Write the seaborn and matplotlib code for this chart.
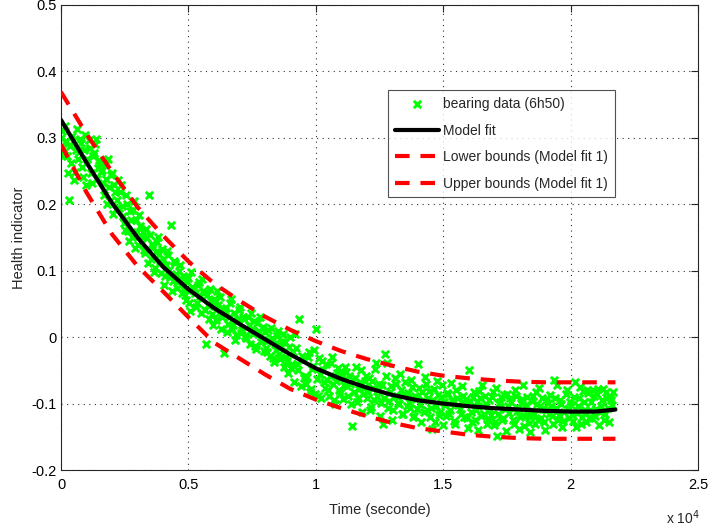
import numpy as np
import matplotlib
matplotlib.use("Agg")
import matplotlib.pyplot as plt
import seaborn as sns

# ------------------------
# DATA
# ------------------------
# bearing data, two interleaved passes, one sample every 80 s each
sample_step = 80.0
hi_data_a = [  # t = 0, 80, 160, ...
    0.300, 0.285, 0.318, 0.272, 0.207, 0.262, 0.295, 0.248, 0.313, 0.278,
    0.292, 0.241, 0.305, 0.268, 0.285, 0.232, 0.277, 0.298, 0.255, 0.262,
    0.252, 0.214, 0.238, 0.268, 0.205, 0.247, 0.229, 0.193, 0.236, 0.218,
    0.198, 0.172, 0.214, 0.160, 0.190, 0.151, 0.205, 0.176, 0.139, 0.168,
    0.158, 0.127, 0.149, 0.214, 0.118, 0.136, 0.104, 0.143, 0.125, 0.097,
    0.118, 0.092, 0.130, 0.101, 0.169, 0.085, 0.112, 0.074, 0.099, 0.088,
    0.092, 0.064, 0.083, 0.051, 0.098, 0.071, 0.045, 0.079, 0.062, 0.088,
    0.066, -0.010, 0.048, 0.072, 0.035, 0.058, 0.026, 0.049, 0.061, 0.031,
    -0.024, 0.044, 0.020, 0.052, 0.012, 0.037, 0.003, 0.028, 0.046, 0.010,
    0.027, -0.002, 0.019, 0.036, 0.004, -0.014, 0.022, 0.009, -0.008, 0.015,
    0.008, -0.022, -0.005, 0.014, -0.031, -0.010, 0.002, -0.026, -0.014, 0.005,
    -0.008, -0.036, -0.015, -0.047, -0.022, 0.004, -0.041, 0.027, -0.029, -0.062,
    -0.071, -0.030, -0.082, -0.048, -0.019, 0.012, -0.088, -0.055, -0.036, -0.068,
    -0.041, -0.079, -0.058, -0.030, -0.095, -0.066, -0.047, -0.084, -0.056, -0.072,
    -0.052, -0.088, -0.070, -0.134, -0.061, -0.097, -0.078, -0.050, -0.086, -0.066,
    -0.092, -0.061, -0.105, -0.077, -0.048, -0.088, -0.070, -0.099, -0.130, -0.026,
    -0.039, -0.096, -0.074, -0.110, -0.062, -0.088, -0.101, -0.079, -0.115, -0.068,
    -0.084, -0.106, -0.075, -0.118, -0.093, -0.041, -0.101, -0.082, -0.112, -0.070,
    -0.092, -0.120, -0.139, -0.078, -0.104, -0.087, -0.113, -0.072, -0.097, -0.118,
    -0.085, -0.110, -0.094, -0.126, -0.079, -0.102, -0.116, -0.088, -0.099, -0.121,
    -0.050, -0.112, -0.090, -0.125, -0.097, -0.081, -0.118, -0.104, -0.089, -0.130,
    -0.095, -0.117, -0.083, -0.128, -0.149, -0.101, -0.090, -0.122, -0.108, -0.086,
    -0.114, -0.097, -0.131, -0.088, -0.106, -0.120, -0.093, -0.134, -0.102, -0.117,
    -0.143, -0.096, -0.115, -0.083, -0.124, -0.104, -0.091, -0.128, -0.110, -0.099,
    -0.087, -0.118, -0.065, -0.106, -0.124, -0.095, -0.135, -0.113, -0.080, -0.121,
    -0.102, -0.126, -0.068, -0.114, -0.092, -0.131, -0.081, -0.109, -0.079, -0.122,
    -0.097, -0.080, -0.118, -0.086, -0.133, -0.104, -0.078, -0.115, -0.092, -0.127,
    -0.095, -0.083,
]
hi_data_b = [  # t = 40, 120, 200, ...
    0.310, 0.274, 0.296, 0.247, 0.288, 0.303, 0.236, 0.282, 0.268, 0.299,
    0.256, 0.281, 0.229, 0.297, 0.247, 0.273, 0.290, 0.238, 0.266, 0.248,
    0.232, 0.259, 0.201, 0.226, 0.244, 0.185, 0.219, 0.207, 0.195, 0.229,
    0.183, 0.162, 0.201, 0.145, 0.177, 0.192, 0.134, 0.158, 0.184, 0.150,
    0.131, 0.163, 0.112, 0.154, 0.140, 0.098, 0.128, 0.151, 0.115, 0.133,
    0.079, 0.108, 0.124, 0.090, 0.070, 0.115, 0.095, 0.083, 0.109, 0.067,
    0.071, 0.056, 0.089, 0.040, 0.076, 0.066, 0.052, 0.083, 0.037, 0.069,
    0.041, 0.064, 0.028, 0.055, 0.018, 0.047, 0.070, 0.036, 0.012, 0.042,
    0.039, 0.008, 0.031, 0.058, 0.019, -0.004, 0.025, 0.041, 0.006, 0.030,
    0.001, 0.030, -0.010, 0.011, 0.024, -0.018, 0.006, 0.031, -0.005, -0.021,
    -0.016, 0.011, -0.028, -0.002, -0.038, -0.019, 0.009, -0.033, -0.007, -0.045,
    -0.030, -0.054, 0.000, -0.040, -0.068, -0.017, -0.050, -0.074, -0.035, -0.058,
    -0.060, -0.022, -0.078, -0.043, -0.085, -0.063, -0.031, -0.092, -0.049, -0.076,
    -0.065, -0.088, -0.039, -0.071, -0.100, -0.054, -0.080, -0.062, -0.093, -0.045,
    -0.074, -0.059, -0.101, -0.083, -0.045, -0.091, -0.068, -0.112, -0.077, -0.058,
    -0.083, -0.110, -0.066, -0.095, -0.039, -0.080, -0.118, -0.072, -0.091, -0.058,
    -0.107, -0.082, -0.124, -0.090, -0.071, -0.099, -0.056, -0.115, -0.086, -0.104,
    -0.097, -0.065, -0.120, -0.089, -0.108, -0.077, -0.127, -0.094, -0.060, -0.110,
    -0.081, -0.107, -0.095, -0.128, -0.066, -0.117, -0.090, -0.133, -0.102, -0.084,
    -0.115, -0.069, -0.098, -0.131, -0.091, -0.108, -0.074, -0.120, -0.093, -0.137,
    -0.096, -0.128, -0.083, -0.110, -0.140, -0.092, -0.072, -0.115, -0.101, -0.124,
    -0.110, -0.090, -0.133, -0.076, -0.116, -0.098, -0.125, -0.087, -0.141, -0.104,
    -0.092, -0.124, -0.080, -0.111, -0.138, -0.099, -0.072, -0.118, -0.090, -0.129,
    -0.118, -0.089, -0.130, -0.101, -0.076, -0.121, -0.108, -0.140, -0.093, -0.115,
    -0.103, -0.130, -0.092, -0.072, -0.117, -0.100, -0.126, -0.086, -0.108, -0.098,
    -0.117, -0.090, -0.136, -0.104, -0.075, -0.120, -0.097, -0.128, -0.084, -0.110,
    -0.122, -0.088, -0.108, -0.078, -0.112, -0.095, -0.125, -0.083, -0.106, -0.090,
    -0.102,
]
t_data = np.concatenate([np.arange(len(hi_data_a)) * sample_step,
                         np.arange(len(hi_data_b)) * sample_step + sample_step / 2])
hi_data = np.concatenate([hi_data_a, hi_data_b])

# model fit and its bounds
fit_t = [0, 1000, 2000, 3000, 4000, 5000, 6000, 7000, 8000, 9000, 10000,
         11000, 12000, 13000, 14000, 15000, 16000, 17000, 18000, 19000,
         20000, 21000, 21760]
fit_v = [0.327, 0.263, 0.202, 0.150, 0.106, 0.072, 0.044, 0.020, -0.003,
         -0.026, -0.047, -0.063, -0.076, -0.087, -0.095, -0.100, -0.104,
         -0.107, -0.109, -0.111, -0.112, -0.112, -0.109]
upper_v = [0.369, 0.306, 0.249, 0.196, 0.153, 0.114, 0.081, 0.055, 0.031,
           0.011, -0.006, -0.021, -0.033, -0.043, -0.052, -0.058, -0.062,
           -0.065, -0.067, -0.068, -0.068, -0.068, -0.068]
lower_v = [0.290, 0.218, 0.155, 0.107, 0.069, 0.030, -0.008, -0.032, -0.056,
           -0.078, -0.094, -0.107, -0.119, -0.129, -0.137, -0.142, -0.147,
           -0.150, -0.152, -0.153, -0.153, -0.153, -0.153]

x_ticks = [0, 5000, 10000, 15000, 20000, 25000]
x_tick_labels = ["0", "0.5", "1", "1.5", "2", "2.5"]
y_ticks = [-0.2, -0.1, 0, 0.1, 0.2, 0.3, 0.4, 0.5]
y_tick_labels = ["-0.2", "-0.1", "0", "0.1", "0.2", "0.3", "0.4", "0.5"]

# ------------------------
# STYLE
# ------------------------
sns.set_style("white")
plt.rcParams["font.family"] = ["Liberation Sans", "DejaVu Sans"]
plt.rcParams["axes.unicode_minus"] = False

fig = plt.figure(figsize=(7.13, 5.31), dpi=100)
ax = fig.add_axes([61 / 713, 61 / 531, 637 / 713, 465 / 531])

sns.scatterplot(x=t_data, y=hi_data, ax=ax, marker="x", color="#00ff00",
                s=28, linewidth=2.1, label="bearing data (6h50)", zorder=2)
sns.lineplot(x=fit_t, y=fit_v, ax=ax, color="black", linewidth=3,
             label="Model fit", zorder=3)
sns.lineplot(x=fit_t, y=lower_v, ax=ax, color="#ff0000", linewidth=3,
             linestyle=(0, (3.5, 2.6)), label="Lower bounds (Model fit 1)", zorder=3)
sns.lineplot(x=fit_t, y=upper_v, ax=ax, color="#ff0000", linewidth=3,
             linestyle=(0, (3.5, 2.6)), label="Upper bounds (Model fit 1)", zorder=3)

ax.set_xlim(0, 25000)
ax.set_ylim(-0.2, 0.5)
ax.set_xticks(x_ticks)
ax.set_xticklabels(x_tick_labels)
ax.set_yticks(y_ticks)
ax.set_yticklabels(y_tick_labels)
ax.tick_params(direction="in", length=5, width=0.8, colors="#262626",
               labelsize=10.5, top=True, right=True, pad=3)
ax.tick_params(axis="x", pad=6)
for lbl in ax.get_xticklabels() + ax.get_yticklabels():
    lbl.set_color("black")
for sp in ax.spines.values():
    sp.set_visible(True)
    sp.set_color("#262626")
    sp.set_linewidth(0.8)

ax.grid(True, linestyle=(0, (1, 4)), color="#333333", linewidth=0.8)
ax.set_axisbelow(True)

ax.set_xlabel("Time (seconde)", fontsize=10.5, labelpad=8)
ax.set_ylabel("Health indicator", fontsize=10.5, labelpad=4)
fig.text(683 / 713, 1 - 518 / 531, "x 10$^4$", fontsize=10, ha="center",
         va="center")

leg = ax.legend(loc="upper left", bbox_to_anchor=(0.513, 0.817),
                fontsize=10, frameon=True, fancybox=False, handlelength=3.2,
                borderpad=0.5, labelspacing=0.9, handletextpad=0.3,
                borderaxespad=0)
leg.get_frame().set_edgecolor("#262626")
leg.get_frame().set_linewidth(0.8)

fig.savefig("out.png", dpi=100)
